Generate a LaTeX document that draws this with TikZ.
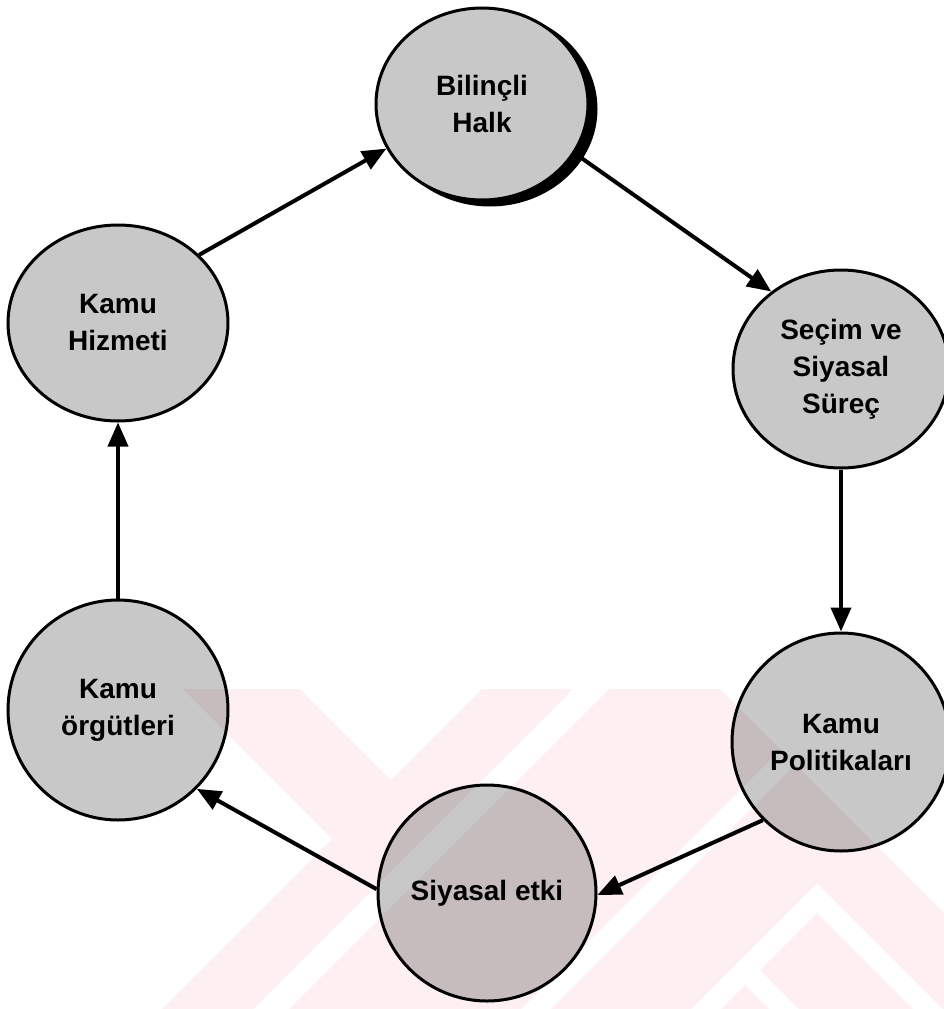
\documentclass[tikz,border=0pt]{standalone}
\usepackage{fontspec}
\setmainfont{Liberation Sans}
\usetikzlibrary{shapes.geometric,arrows.meta}
\definecolor{wm}{RGB}{253,239,242}
\definecolor{nodefill}{RGB}{200,200,200}
\begin{document}
\begin{tikzpicture}[x=1pt,y=-1pt,
  bubble/.style={ellipse, draw=black, line width=3pt, fill=black, fill opacity=0.216,
    draw opacity=1, text opacity=1, inner sep=0pt, align=center,
    font=\fontsize{28}{37}\selectfont\bfseries},
  arr/.style={line width=4pt, -{Triangle[length=24pt,width=20pt]}}]
\useasboundingbox (0,0) rectangle (944,1009);
% watermark
\begin{scope}
  \clip (183,689) -- (300,689) -- (391,780) -- (482,689) -- (720,689) -- (1040,1009) -- (162,1009) -- (332,839) -- cycle;
  \fill[wm, even odd rule] (0,600) rectangle (1100,1100)
    (662,600) -- (698,600) -- (198,1100) -- (162,1100) -- cycle
    (930,600) -- (960,600) -- (460,1100) -- (430,1100) -- cycle
    (817,883) -- (1034,1100) -- (1004,1100) -- (817,913) -- (760,970) -- (890,1100) -- (860,1100) -- (745,985) -- (630,1100) -- (600,1100) -- cycle;
\end{scope}
% shadow of top node
\fill[black] (490,109) ellipse [x radius=107.5, y radius=97.5];
% nodes
\node[bubble, fill=nodefill, fill opacity=1, minimum width=212pt, minimum height=192pt] (bilincli) at (482,104) {Bilinçli\\Halk};
\node[bubble, minimum width=220pt, minimum height=196pt] (hizmet) at (118,323) {Kamu\\Hizmeti};
\node[bubble, minimum width=216pt, minimum height=198pt] (secim) at (841,369) {Seçim ve\\Siyasal\\Süreç};
\node[bubble, minimum width=218pt, minimum height=218pt] (polit) at (841,742) {Kamu\\Politikaları};
\node[bubble, minimum width=218pt, minimum height=216pt] (siyasal) at (487,893) {Siyasal etki};
\node[bubble, minimum width=220pt, minimum height=220pt] (orgut) at (118,710) {Kamu\\örgütleri};
% connectors
\draw[arr] (hizmet.40) -- (bilincli.205);
\draw[arr] (bilincli.-28) -- (secim.132);
\draw[arr] (secim.south) -- (polit.north);
\draw[arr] (polit.225) -- (siyasal.-1);
\draw[arr] (siyasal.178) -- (orgut.-45);
\draw[arr] (orgut.north) -- (hizmet.south);
\end{tikzpicture}
\end{document}
